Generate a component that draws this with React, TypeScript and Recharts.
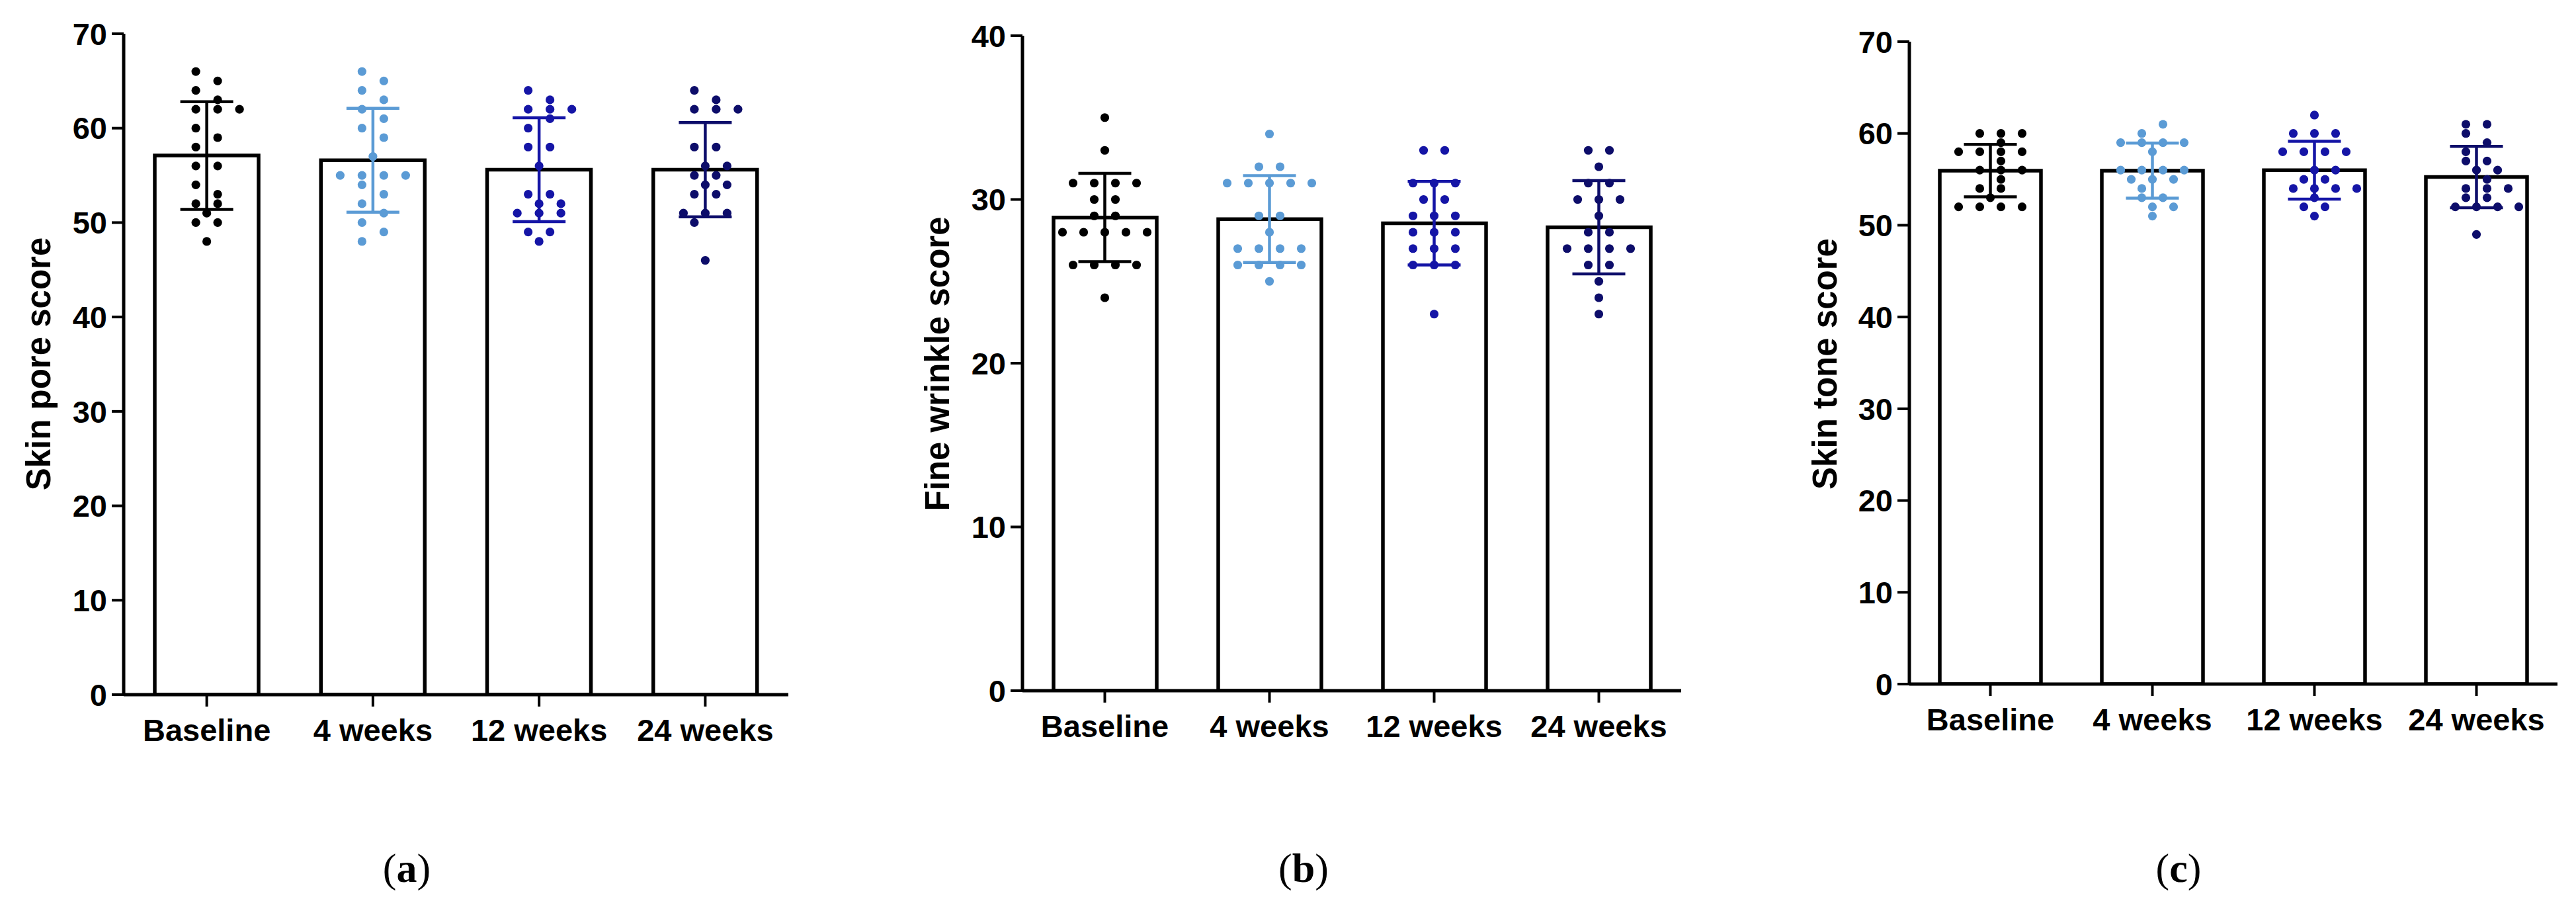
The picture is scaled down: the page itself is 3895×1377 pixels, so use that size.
import { ComposedChart, Bar, Scatter, ErrorBar, XAxis, YAxis } from "recharts";

const groups = ["Baseline", "4 weeks", "12 weeks", "24 weeks"];
const groupColors = ["#000000", "#5B9BD5", "#1515A6", "#0D0D6A"];

// (a) skin pore score
const poreTicks = [0, 10, 20, 30, 40, 50, 60, 70];
const poreMeans = [57.1, 56.6, 55.6, 55.6];
const poreSD = [5.7, 5.5, 5.5, 5.0];
const poreBaseline = [66, 65, 64, 63, 62, 62, 62, 60, 59, 58, 56, 56, 54, 53, 52, 52, 51, 50, 50, 48];
const pore4w = [66, 65, 64, 63, 62, 61, 60, 59, 57, 55, 55, 55, 55, 54, 53, 52, 51, 50, 49, 48];
const pore12w = [64, 63, 62, 62, 62, 61, 60, 58, 58, 56, 53, 53, 52, 52, 51, 51, 51, 49, 49, 48];
const pore24w = [64, 63, 62, 62, 62, 58, 58, 56, 56, 55, 55, 54, 54, 53, 53, 51, 51, 51, 50, 46];

// (b) fine wrinkle score
const wrinkleTicks = [0, 10, 20, 30, 40];
const wrinkleMeans = [28.9, 28.8, 28.55, 28.3];
const wrinkleSD = [2.7, 2.65, 2.55, 2.85];
const wrinkleBaseline = [35, 33, 31, 31, 31, 31, 30, 30, 29, 29, 28, 28, 28, 28, 28, 26, 26, 26, 26, 24];
const wrinkle4w = [34, 32, 32, 31, 31, 31, 31, 31, 29, 29, 28, 27, 27, 27, 27, 26, 26, 26, 26, 25];
const wrinkle12w = [33, 33, 31, 31, 31, 30, 30, 29, 29, 29, 28, 28, 28, 27, 27, 27, 26, 26, 26, 23];
const wrinkle24w = [33, 33, 32, 31, 31, 30, 30, 30, 29, 28, 28, 27, 27, 27, 27, 26, 26, 25, 24, 23];

// (c) skin tone score
const toneTicks = [0, 10, 20, 30, 40, 50, 60, 70];
const toneMeans = [55.95, 55.95, 56.0, 55.25];
const toneSD = [2.85, 3.0, 3.15, 3.35];
const toneBaseline = [60, 60, 60, 59, 58, 58, 58, 58, 57, 56, 56, 56, 55, 54, 54, 53, 52, 52, 52, 52];
const tone4w = [61, 60, 59, 59, 59, 59, 58, 56, 56, 56, 56, 55, 55, 55, 54, 53, 53, 52, 52, 51];
const tone12w = [62, 60, 60, 60, 58, 58, 58, 58, 56, 56, 55, 55, 54, 54, 54, 54, 53, 52, 52, 51];
const tone24w = [61, 61, 60, 59, 58, 57, 57, 56, 56, 55, 54, 54, 54, 53, 53, 52, 52, 52, 52, 49];

const sans = "'Liberation Sans', Arial, sans-serif";
const serif = "'Liberation Serif', 'Times New Roman', serif";

// spread dots sharing a value sideways (slot units), zigzag neighbours when rows are tight
function swarm(values: number[], tight: boolean) {
  const counts = new Map<number, number>();
  values.forEach((v) => counts.set(v, (counts.get(v) ?? 0) + 1));
  const out: { value: number; slot: number }[] = [];
  [...counts.keys()]
    .sort((a, b) => b - a)
    .forEach((v) => {
      const n = counts.get(v)!;
      let shift = 0;
      if (tight) {
        const near = [v + 1, v - 1].some((u) => counts.has(u) && counts.get(u)! % 2 === n % 2);
        if (near) shift = n === 1 ? (v % 2 === 0 ? -1 : 1) : v % 2 === 0 ? 1 : 0;
      }
      for (let k = 0; k < n; k++) out.push({ value: v, slot: (k - (n - 1) / 2) * 2 + shift });
    });
  return out;
}

interface PanelProps {
  left: number;
  width: number;
  axisWidth: number;
  plotRight: number;
  plotTop: number;
  plotBottom: number;
  barSize: number;
  ticks: number[];
  means: number[];
  sds: number[];
  dots: number[][];
  label: string;
  labelX: number;
  caption: string;
  captionX: number;
  slotPx: number;
}

const H = 1377;

const Panel = (p: PanelProps) => {
  const yMax = p.ticks[p.ticks.length - 1];
  const plotW = p.plotRight - p.axisWidth;
  const band = plotW / groups.length;
  const pxPerUnit = (p.plotBottom - p.plotTop) / yMax;
  const barData = groups.map((name, i) => ({ name, y: p.means[i] }));

  return (
    <>
      <div style={{ position: "absolute", left: p.left, top: 0, width: p.width, height: H }}>
        <ComposedChart
          width={p.width}
          height={H}
          data={barData}
          margin={{ top: p.plotTop, right: p.width - p.plotRight, left: 0, bottom: H - p.plotBottom - 100 }}
        >
          <XAxis
            xAxisId="cat"
            dataKey="name"
            interval={0}
            height={100}
            tickSize={18}
            tickMargin={19}
            axisLine={{ stroke: "#000", strokeWidth: 5 }}
            tickLine={{ stroke: "#000", strokeWidth: 4 }}
            tick={{ fill: "#000", fontSize: 47, fontWeight: 700, fontFamily: sans }}
          />
          <XAxis xAxisId="num" dataKey="x" type="number" domain={[-0.5, 3.5]} hide allowDataOverflow />
          <YAxis
            dataKey="y"
            width={p.axisWidth}
            domain={[0, yMax]}
            ticks={p.ticks}
            interval={0}
            allowDataOverflow
            tickSize={18}
            tickMargin={7}
            axisLine={{ stroke: "#000", strokeWidth: 5 }}
            tickLine={{ stroke: "#000", strokeWidth: 4 }}
            tick={{ fill: "#000", fontSize: 47, fontWeight: 700, fontFamily: sans }}
          />
          <Bar
            xAxisId="cat"
            dataKey="y"
            barSize={p.barSize}
            fill="#fff"
            stroke="#000"
            strokeWidth={5.5}
            isAnimationActive={false}
          />
          {p.dots.map((vals, i) => (
            <Scatter
              key={`dots-${i}`}
              xAxisId="num"
              data={swarm(vals, pxPerUnit < 20).map((d) => ({
                x: i + (d.slot * p.slotPx) / band,
                y: d.value,
              }))}
              isAnimationActive={false}
              shape={(s: any) => <circle cx={s.cx} cy={s.cy} r={6.6} fill={groupColors[i]} />}
            />
          ))}
          {groups.map((g, i) => (
            <Scatter
              key={`err-${g}`}
              xAxisId="num"
              data={[{ x: i, y: p.means[i], sd: p.sds[i] }]}
              isAnimationActive={false}
              shape={() => <g />}
            >
              <ErrorBar
                dataKey="sd"
                direction="y"
                width={40}
                stroke={groupColors[i]}
                strokeWidth={4.5}
                isAnimationActive={false}
              />
            </Scatter>
          ))}
        </ComposedChart>
      </div>
      <div
        style={{
          position: "absolute",
          left: p.labelX - 5,
          top: 550,
          transform: "translate(-50%, -50%) rotate(-90deg)",
          whiteSpace: "nowrap",
          fontFamily: sans,
          fontWeight: 700,
          fontSize: 51,
          lineHeight: 1,
          color: "#000",
        }}
      >
        {p.label}
      </div>
      <div
        style={{
          position: "absolute",
          left: p.captionX,
          top: 1281,
          transform: "translateX(-50%)",
          whiteSpace: "nowrap",
          fontFamily: serif,
          fontSize: 62,
          lineHeight: 1,
          color: "#000",
        }}
      >
        (<b>{p.caption}</b>)
      </div>
    </>
  );
};

const App = () => {
  return (
    <div style={{ position: "absolute", left: 0, top: 0, width: 3895, height: H, background: "#fff", overflow: "hidden" }}>
      <Panel
        left={0}
        width={1300}
        axisWidth={187}
        plotRight={1192}
        plotTop={51}
        plotBottom={1050}
        barSize={157}
        ticks={poreTicks}
        means={poreMeans}
        sds={poreSD}
        dots={[poreBaseline, pore4w, pore12w, pore24w]}
        label="Skin pore score"
        labelX={63}
        caption="a"
        captionX={615}
        slotPx={16.5}
      />
      <Panel
        left={1300}
        width={1300}
        axisWidth={246}
        plotRight={1242}
        plotTop={54}
        plotBottom={1044}
        barSize={156}
        ticks={wrinkleTicks}
        means={wrinkleMeans}
        sds={wrinkleSD}
        dots={[wrinkleBaseline, wrinkle4w, wrinkle12w, wrinkle24w]}
        label="Fine wrinkle score"
        labelX={1422}
        caption="b"
        captionX={1971}
        slotPx={16}
      />
      <Panel
        left={2600}
        width={1295}
        axisWidth={287}
        plotRight={1267}
        plotTop={63}
        plotBottom={1034}
        barSize={153}
        ticks={toneTicks}
        means={toneMeans}
        sds={toneSD}
        dots={[toneBaseline, tone4w, tone12w, tone24w]}
        label="Skin tone score"
        labelX={2764}
        caption="c"
        captionX={3294}
        slotPx={16}
      />
    </div>
  );
};

export default App;
